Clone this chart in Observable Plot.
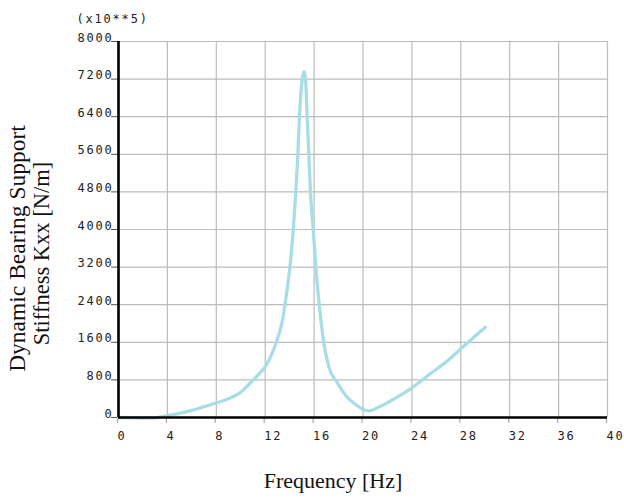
<!DOCTYPE html>
<html>
<head>
<meta charset="utf-8">
<script src="https://cdn.jsdelivr.net/npm/d3@7"></script>
<script src="https://cdn.jsdelivr.net/npm/@observablehq/plot@0.6"></script>
<style>
  html, body { margin: 0; padding: 0; background: white; }
  #chart svg text { letter-spacing: 1.8px; }
</style>
</head>
<body>
<div id="chart"></div>
<script>
// Frequency [Hz]
const freqHz = [0, 1, 2, 3, 4, 5, 6, 7, 8, 9, 10, 10.8, 11.4, 12, 12.5, 12.9, 13.4, 13.7, 14, 14.3, 14.5, 14.67, 14.8, 14.95, 15.1, 15.2, 15.3, 15.43, 15.57, 15.7, 15.93, 16.14, 16.4, 16.8, 17.2, 17.9, 18.7, 19.5, 20.1, 20.5, 21.4, 22.8, 24, 25.5, 26.9, 28, 30];
// Dynamic bearing support stiffness Kxx (x10**5 N/m)
const kxx = [0, -5, -15, -8, 40, 90, 150, 230, 310, 400, 540, 740, 900, 1080, 1320, 1600, 2050, 2550, 3150, 4000, 4800, 5600, 6400, 7000, 7300, 7360, 7200, 6400, 5600, 4800, 4000, 3200, 2450, 1580, 1080, 740, 432, 255, 160, 140, 234, 432, 632, 930, 1200, 1462, 1921];
const xTicks = [0, 4, 8, 12, 16, 20, 24, 28, 32, 36, 40];
const yTicks = [0, 800, 1600, 2400, 3200, 4000, 4800, 5600, 6400, 7200, 8000];
const xTitle = "Frequency [Hz]";
const yTitle1 = "Dynamic Bearing Support";
const yTitle2 = "Stiffness Kxx [N/m]";
const scaleNote = "(x10**5)";

const serif = "'Liberation Serif', 'Times New Roman', serif";
const mono = "'DejaVu Sans Mono', monospace";

const chart = Plot.plot({
  width: 624,
  height: 502,
  marginLeft: 118,
  marginRight: 17,
  marginTop: 41,
  marginBottom: 85,
  x: { domain: [0, 40] },
  y: { domain: [0, 8000] },
  style: { fontFamily: mono, fontSize: "12px", background: "white", overflow: "visible", color: "#222" },
  marks: [
    Plot.ruleX(xTicks, { stroke: "#bcbcbc", strokeWidth: 1.2 }),
    Plot.ruleY(yTicks, { stroke: "#bcbcbc", strokeWidth: 1.2 }),
    Plot.axisX(xTicks, { label: null, tickSize: 6, tickPadding: 8, stroke: "#aaa", strokeWidth: 1.2, textAnchor: "start", dx: -1, fill: "#222", tickFormat: d => String(d) }),
    Plot.axisY(yTicks, { label: null, tickSize: 7, tickPadding: -2, lineAnchor: "bottom", stroke: "#555", fill: "#222", tickFormat: d => String(d) }),
    Plot.line(freqHz.map((f, i) => ({ f, k: kxx[i] })), { x: "f", y: "k", stroke: "#a9dde6", strokeWidth: 3.3, curve: "monotone-x", clip: false }),
    Plot.ruleX([0], { stroke: "black", strokeWidth: 2.6 }),
    Plot.ruleY([0], { stroke: "black", strokeWidth: 2.6 }),
    Plot.text([scaleNote], { frameAnchor: "top-left", textAnchor: "start", dx: -42, dy: -27, fill: "#222", fontFamily: mono, fontSize: 12 }),
    Plot.text([xTitle], { frameAnchor: "bottom", textAnchor: "middle", dx: -30, dy: 70, fontFamily: serif, fontSize: 22, fill: "#111" }),
    Plot.text([yTitle1], { frameAnchor: "left", textAnchor: "middle", rotate: -90, dx: -101, dy: 19, fontFamily: serif, fontSize: 23.5, fill: "#111" }),
    Plot.text([yTitle2], { frameAnchor: "left", textAnchor: "middle", rotate: -90, dx: -77, dy: 24, fontFamily: serif, fontSize: 22.5, fill: "#111" })
  ]
});
const titles = new Set([xTitle, yTitle1, yTitle2]);
d3.select(chart).selectAll("text")
  .filter(function () { return titles.has(this.textContent); })
  .style("letter-spacing", "0px");
document.getElementById("chart").appendChild(chart);
</script>
</body>
</html>
